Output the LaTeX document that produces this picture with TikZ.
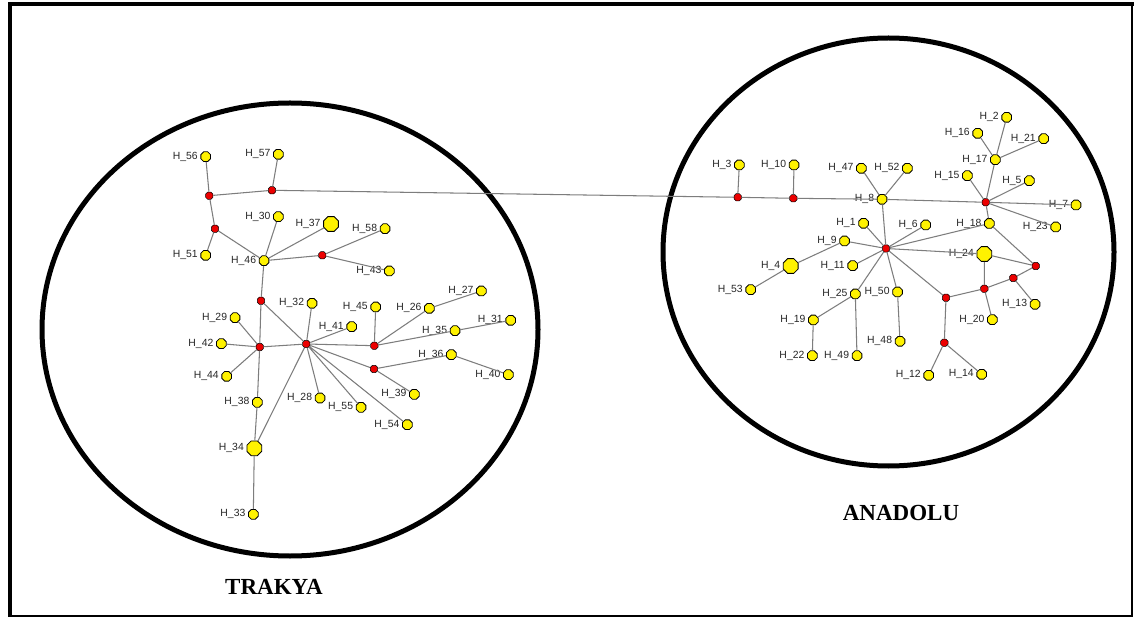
\documentclass[tikz,border=0pt]{standalone}
\usepackage{fontspec}
\setmainfont{Liberation Serif}
\newfontfamily\labelfont{Liberation Sans}
\usetikzlibrary{shapes.geometric}
\definecolor{hapyellow}{RGB}{255,242,0}
\definecolor{medred}{RGB}{235,0,0}
\definecolor{edgegray}{RGB}{125,125,125}
\tikzset{
  hap/.style={regular polygon, regular polygon sides=8, draw=black, line width=0.8pt,
    fill=hapyellow, minimum size=10.5pt, inner sep=0pt},
  hapbig/.style={hap, minimum size=16pt},
  med/.style={regular polygon, regular polygon sides=8, draw=black, line width=0.5pt,
    fill=medred, minimum size=8pt, inner sep=0pt},
  lbl/.style={font=\labelfont\fontsize{10.4}{12}\selectfont, text=black!85, inner sep=0pt},
  hl/.style={label={[lbl, label distance=2.5pt]left:#1}},
  link/.style={draw=edgegray, line width=1.05pt},
  region/.style={draw=black, line width=5pt},
  regname/.style={font=\bfseries\fontsize{23}{26}\selectfont, text=black}
}
\begin{document}
\begin{tikzpicture}[x=1pt, y=-1pt]
\useasboundingbox (0,0) rectangle (1135,617);
\fill[white] (0,0) rectangle (1135,617);

% outer frame
\draw[line width=4pt] (10,4) -- (10,615);
\draw[line width=4pt] (8,4) -- (1133.5,4);
\draw[line width=2pt] (1132,3) -- (1132,616);
\draw[line width=2pt] (8,615.5) -- (1133,615.5);

% the two regions
\draw[region] (290,329.5) ellipse [x radius=248, y radius=226.5];
\draw[region] (888.5,252) ellipse [x radius=225.5, y radius=214];
\node[regname] (trakya) at (274,587) {TRAKYA};
\node[regname] (anadolu) at (901,513) {ANADOLU};

% ---------- Trakya haplotypes ----------
\node[hap, hl=H\_56] (t56) at (205.7,156.7) {};
\node[hap, hl=H\_57] (t57) at (278.3,154.3) {};
\node[med] (m1) at (209.3,195.7) {};
\node[med] (m2) at (272,190.3) {};
\node[med] (m3) at (215,228.7) {};
\node[hap, hl=H\_51] (t51) at (205.7,255.3) {};
\node[hap, hl=H\_30] (t30) at (278.3,216.7) {};
\node[hapbig, hl=H\_37] (t37) at (331,224) {};
\node[hap, hl=H\_58] (t58) at (385,228.7) {};
\node[hap, hl=H\_46] (t46) at (264,260.7) {};
\node[med] (m4) at (322.3,255.3) {};
\node[hap, hl=H\_43] (t43) at (389.3,271) {};
\node[med] (m5) at (261,300.7) {};
\node[hap, hl=H\_32] (t32) at (312,303.3) {};
\node[hap, hl=H\_29] (t29) at (235,317.7) {};
\node[hap, hl=H\_42] (t42) at (221.3,343.7) {};
\node[med] (m6) at (259.7,347) {};
\node[med] (m7) at (306.3,344) {};
\node[hap, hl=H\_41] (t41) at (351.7,326.7) {};
\node[hap, hl=H\_45] (t45) at (375.7,307) {};
\node[med] (m8) at (374.3,345.7) {};
\node[hap, hl=H\_26] (t26) at (429.3,308.3) {};
\node[hap, hl=H\_27] (t27) at (481.3,291) {};
\node[hap, hl=H\_35] (t35) at (455,330.7) {};
\node[hap, hl=H\_31] (t31) at (510.7,320.3) {};
\node[hap, hl=H\_36] (t36) at (451.3,354.7) {};
\node[med] (m9) at (374,369) {};
\node[hap, hl=H\_40] (t40) at (508.3,374.7) {};
\node[hap, hl=H\_39] (t39) at (414.3,394.3) {};
\node[hap, hl=H\_44] (t44) at (226.7,376.3) {};
\node[hap, hl=H\_38] (t38) at (257.3,402.3) {};
\node[hap, hl=H\_28] (t28) at (320,398) {};
\node[hap, hl=H\_55] (t55) at (361,407.3) {};
\node[hap, hl=H\_54] (t54) at (407.3,424.7) {};
\node[hapbig, hl=H\_34] (t34) at (254.3,448.3) {};
\node[hap, hl=H\_33] (t33) at (253.3,514.3) {};

% ---------- Anadolu haplotypes ----------
\node[hap, hl=H\_3] (a03) at (739.3,165) {};
\node[med] (b1) at (737.7,197.3) {};
\node[hap, hl=H\_10] (a10) at (794,165) {};
\node[med] (b2) at (793.3,198.3) {};
\node[hap, hl=H\_47] (a47) at (861.3,168.3) {};
\node[hap, hl=H\_52] (a52) at (907.3,168.3) {};
\node[hap, hl=H\_8] (a08) at (882,199.3) {};
\node[hap, hl=H\_1] (a01) at (863.5,223.3) {};
\node[hap, hl=H\_6] (a06) at (925.7,225) {};
\node[hap, hl=H\_9] (a09) at (844.5,241) {};
\node[med] (b3) at (886,248.5) {};
\node[hap, hl=H\_2] (a02) at (1006.7,117.3) {};
\node[hap, hl=H\_16] (a16) at (977.7,133.3) {};
\node[hap, hl=H\_21] (a21) at (1043.7,138.7) {};
\node[hap, hl=H\_17] (a17) at (995.3,159.7) {};
\node[hap, hl=H\_15] (a15) at (967.3,175.7) {};
\node[hap, hl=H\_5] (a05) at (1029.3,180.7) {};
\node[med] (b4) at (985.7,202.3) {};
\node[hap, hl=H\_7] (a07) at (1076,205) {};
\node[hap, hl=H\_18] (a18) at (989.3,223.5) {};
\node[hap, hl=H\_23] (a23) at (1055.7,227) {};
\node[hapbig, hl=H\_4] (a04) at (790.7,266) {};
\node[hap, hl=H\_11] (a11) at (852.7,265.7) {};
\node[hap, hl=H\_53] (a53) at (750.7,289.7) {};
\node[hap, hl=H\_25] (a25) at (855.3,294) {};
\node[hap, hl=H\_50] (a50) at (897.5,292) {};
\node[hap, hl=H\_19] (a19) at (813.3,320) {};
\node[hap, hl=H\_48] (a48) at (900,341.3) {};
\node[hap, hl=H\_22] (a22) at (812.3,355.7) {};
\node[hap, hl=H\_49] (a49) at (857,355.7) {};
\node[hapbig, hl=H\_24] (a24) at (984.3,254) {};
\node[med] (b9) at (1035.7,266) {};
\node[med] (b8) at (1013.3,278) {};
\node[hap, hl=H\_13] (a13) at (1035,304.3) {};
\node[med] (b7) at (984.3,288.7) {};
\node[med] (b6) at (946,297.7) {};
\node[hap, hl=H\_20] (a20) at (992.3,319.7) {};
\node[med] (b10) at (944.3,342.7) {};
\node[hap, hl=H\_12] (a12) at (928.7,375.3) {};
\node[hap, hl=H\_14] (a14) at (981.7,374.3) {};

% ---------- links ----------
\path[link]
  (t56) -- (m1)  (m1) -- (m2)  (m2) -- (t57)  (m2) -- (b1)
  (m1) -- (m3)  (m3) -- (t51)  (m3) -- (t46)
  (t46) -- (t30)  (t46) -- (t37)  (t46) -- (m4)  (m4) -- (t58)  (m4) -- (t43)
  (t46) -- (m5)  (m5) -- (m6)  (m5) -- (m7)
  (m6) -- (t29)  (m6) -- (t42)  (m6) -- (t44)  (m6) -- (m7)  (m6) -- (t38)
  (t38) -- (t34)  (t34) -- (t33)  (m7) -- (t34)
  (m7) -- (t32)  (m7) -- (t41)  (m7) -- (m8)  (m8) -- (t45)
  (m8) -- (t26)  (t26) -- (t27)  (m8) -- (t35)  (t35) -- (t31)
  (m7) -- (m9)  (m9) -- (t36)  (t36) -- (t40)  (m9) -- (t39)
  (m7) -- (t28)  (m7) -- (t55)  (m7) -- (t54);
\path[link]
  (b1) -- (a03)  (b1) -- (b2)  (b2) -- (a10)  (b2) -- (a08)
  (a08) -- (a47)  (a08) -- (a52)  (a08) -- (b4)  (a08) -- (b3)
  (b4) -- (a17)  (a17) -- (a02)  (a17) -- (a16)  (a17) -- (a21)
  (b4) -- (a15)  (b4) -- (a05)  (b4) -- (a07)  (b4) -- (a23)  (b4) -- (a18)
  (a18) -- (b9)  (b3) -- (a18)  (b3) -- (a06)  (b3) -- (a01)
  (b3) -- (a09)  (a09) -- (a04)  (a04) -- (a53)  (b3) -- (a11)
  (b3) -- (a25)  (a25) -- (a19)  (a19) -- (a22)  (a25) -- (a49)
  (b3) -- (a50)  (a50) -- (a48)  (b3) -- (a24)  (b3) -- (b6)
  (a24) -- (b7)  (a24) -- (b9)  (b9) -- (b8)  (b8) -- (b7)  (b8) -- (a13)
  (b7) -- (b6)  (b7) -- (a20)  (b6) -- (b10)  (b10) -- (a12)  (b10) -- (a14);
\end{tikzpicture}
\end{document}
